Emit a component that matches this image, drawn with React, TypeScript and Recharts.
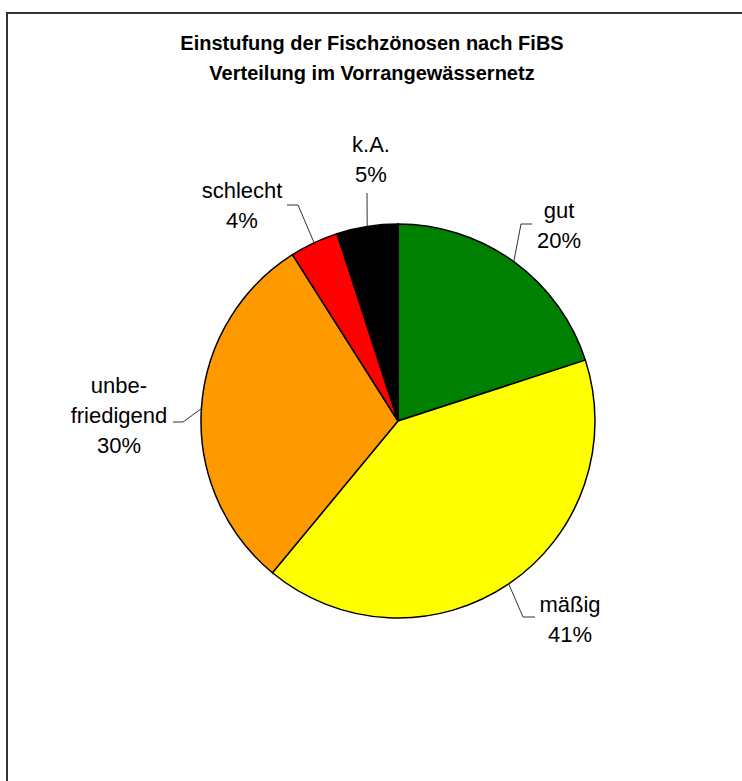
import React from 'react';
import { PieChart, Pie, Cell } from 'recharts';

// Einstufung nach FiBS, Anteile in %
const categories = ['gut', 'mäßig', 'unbefriedigend', 'schlecht', 'k.A.'];
const labelLines = [['gut'], ['mäßig'], ['unbe-', 'friedigend'], ['schlecht'], ['k.A.']];
const shares = [20, 41, 30, 4, 5];
const colors = ['#008000', '#FFFF00', '#FF9900', '#FF0000', '#000000'];

const titleLines = ['Einstufung der Fischzönosen nach FiBS', 'Verteilung im Vorrangewässernetz'];

const data = categories.map((name, i) => ({ name, value: shares[i] }));

// where each label sits, relative to the pie centre (leader elbow, leader end, text)
const LABEL_LAYOUT = [
  { elbow: [123, -197], end: [134, -197], tx: 161, ty: -203 },
  { elbow: [125, 196], end: [137, 196], tx: 172, ty: 191 },
  { elbow: [-215, 1], end: [-225, 1], tx: -279, ty: -28 },
  { elbow: [-100, -216], end: [-111, -216], tx: -156, ty: -223 },
  { elbow: [-31, -228], end: [-31, -228], tx: -27, ty: -269 },
];

const FONT = '"Liberation Sans", Arial, sans-serif';
const RAD = Math.PI / 180;

const renderLabel = (props: any) => {
  const { cx, cy, midAngle, outerRadius, index, percent } = props;
  const lay = LABEL_LAYOUT[index];
  const ex = cx + outerRadius * Math.cos(-midAngle * RAD);
  const ey = cy + outerRadius * Math.sin(-midAngle * RAD);
  const lines = [...labelLines[index], `${Math.round(percent * 100)}%`];
  return (
    <g key={`lbl-${index}`}>
      <polyline
        points={`${ex},${ey} ${cx + lay.elbow[0]},${cy + lay.elbow[1]} ${cx + lay.end[0]},${cy + lay.end[1]}`}
        fill="none"
        stroke="#333"
        strokeWidth={1}
      />
      <text textAnchor="middle" fontFamily={FONT} fontSize={22} fill="#000">
        {lines.map((t, k) => (
          <tspan key={k} x={cx + lay.tx} y={cy + lay.ty + k * 30}>
            {t}
          </tspan>
        ))}
      </text>
    </g>
  );
};

const App: React.FC = () => {
  return (
    <div style={{ position: 'absolute', left: 0, top: 0, width: 742, height: 781, background: '#fff' }}>
      <PieChart width={742} height={781} margin={{ top: 0, right: 0, bottom: 0, left: 0 }}>
        <Pie
          data={data}
          dataKey="value"
          cx={398}
          cy={421}
          innerRadius={0}
          outerRadius={197}
          startAngle={90}
          endAngle={-270}
          paddingAngle={0}
          label={renderLabel}
          labelLine={false}
          isAnimationActive={false}
        >
          {data.map((entry, i) => (
            <Cell key={`cell-${i}`} fill={colors[i]} stroke="#000" strokeWidth={1.5} />
          ))}
        </Pie>
      </PieChart>

      {/* frame and title */}
      <svg width={742} height={781} style={{ position: 'absolute', left: 0, top: 0, pointerEvents: 'none' }}>
        <rect x={7} y={13} width={800} height={800} fill="none" stroke="#333" strokeWidth={2} />
        <text textAnchor="middle" fontFamily={FONT} fontWeight="bold" fontSize={20} fill="#000">
          {titleLines.map((t, k) => (
            <tspan key={k} x={372} y={50 + k * 30}>
              {t}
            </tspan>
          ))}
        </text>
      </svg>
    </div>
  );
};

export default App;
